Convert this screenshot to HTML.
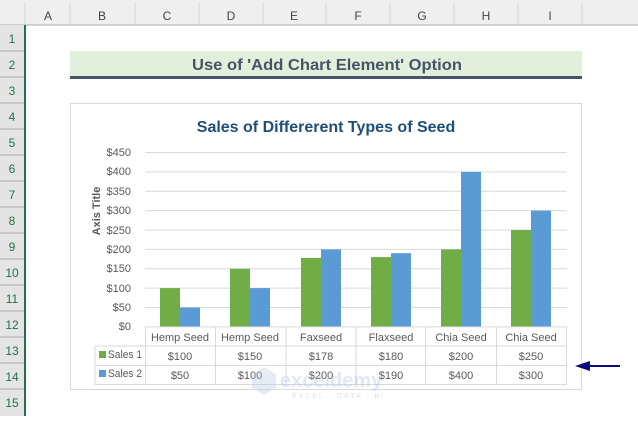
<!DOCTYPE html>
<html><head><meta charset="utf-8"><style>
html,body{margin:0;padding:0;background:#fff;}
body{width:638px;height:416px;overflow:hidden;font-family:"Liberation Sans",sans-serif;}
</style></head><body>
<svg width="638" height="416" xmlns="http://www.w3.org/2000/svg" font-family="Liberation Sans, sans-serif">
<rect x="0" y="0" width="638" height="416" fill="#fff"/>
<rect x="0" y="0" width="638" height="25" fill="#efefef"/>
<line x1="0" y1="25" x2="638" y2="25" stroke="#ababab"/>
<g stroke="#d4d4d4">
<line x1="25" y1="3" x2="25" y2="25"/><line x1="70" y1="3" x2="70" y2="25"/><line x1="135" y1="3" x2="135" y2="25"/>
<line x1="199" y1="3" x2="199" y2="25"/><line x1="263" y1="3" x2="263" y2="25"/><line x1="326" y1="3" x2="326" y2="25"/>
<line x1="390" y1="3" x2="390" y2="25"/><line x1="454" y1="3" x2="454" y2="25"/><line x1="518" y1="3" x2="518" y2="25"/>
<line x1="582" y1="3" x2="582" y2="25"/></g>
<g font-size="12" fill="#444" text-anchor="middle">
<text x="48" y="20">A</text><text x="102" y="20">B</text><text x="167" y="20">C</text><text x="231" y="20">D</text>
<text x="294" y="20">E</text><text x="358" y="20">F</text><text x="422" y="20">G</text><text x="486" y="20">H</text><text x="550" y="20">I</text></g>
<rect x="0" y="25" width="24" height="391" fill="#e4e4e4"/>
<rect x="24" y="25" width="2" height="391" fill="#217346"/>
<g stroke="#ababab">
<line x1="0" y1="51" x2="24" y2="51"/><line x1="0" y1="77" x2="24" y2="77"/><line x1="0" y1="103" x2="24" y2="103"/>
<line x1="0" y1="129" x2="24" y2="129"/><line x1="0" y1="155" x2="24" y2="155"/><line x1="0" y1="181" x2="24" y2="181"/>
<line x1="0" y1="207" x2="24" y2="207"/><line x1="0" y1="233" x2="24" y2="233"/><line x1="0" y1="259" x2="24" y2="259"/>
<line x1="0" y1="285" x2="24" y2="285"/><line x1="0" y1="311" x2="24" y2="311"/><line x1="0" y1="337" x2="24" y2="337"/>
<line x1="0" y1="363" x2="24" y2="363"/><line x1="0" y1="389" x2="24" y2="389"/></g>
<g font-size="12" fill="#217346" text-anchor="middle">
<text x="12" y="43">1</text><text x="12" y="69">2</text><text x="12" y="95">3</text><text x="12" y="121">4</text>
<text x="12" y="147">5</text><text x="12" y="173">6</text><text x="12" y="199">7</text><text x="12" y="225">8</text>
<text x="12" y="251">9</text><text x="12" y="277">10</text><text x="12" y="303">11</text><text x="12" y="329">12</text>
<text x="12" y="355">13</text><text x="12" y="381">14</text><text x="12" y="407">15</text></g>
<rect x="70" y="51" width="512" height="25" fill="#e2efda"/>
<rect x="70" y="76" width="512" height="3" fill="#44546a"/>
<text x="327" y="70" font-size="16" font-weight="bold" fill="#44546a" text-anchor="middle" textLength="270" lengthAdjust="spacingAndGlyphs">Use of 'Add Chart Element' Option</text>
<rect x="70.5" y="103.5" width="511" height="286" fill="#fff" stroke="#d9d9d9"/>
<text x="326" y="132" font-size="16" font-weight="bold" fill="#1f4e79" text-anchor="middle">Sales of Differerent Types of Seed</text>
<g stroke="#d9d9d9">
<line x1="145" y1="152.5" x2="567" y2="152.5"/><line x1="145" y1="171.9" x2="567" y2="171.9"/><line x1="145" y1="191.3" x2="567" y2="191.3"/>
<line x1="145" y1="210.6" x2="567" y2="210.6"/><line x1="145" y1="230" x2="567" y2="230"/><line x1="145" y1="249.4" x2="567" y2="249.4"/>
<line x1="145" y1="268.8" x2="567" y2="268.8"/><line x1="145" y1="288.1" x2="567" y2="288.1"/><line x1="145" y1="307.5" x2="567" y2="307.5"/>
</g>
<g font-size="11" fill="#595959" text-anchor="end">
<text x="131" y="156">$450</text><text x="131" y="175">$400</text><text x="131" y="195">$350</text><text x="131" y="214">$300</text>
<text x="131" y="234">$250</text><text x="131" y="253">$200</text><text x="131" y="272">$150</text><text x="131" y="292">$100</text>
<text x="131" y="311">$50</text><text x="131" y="330">$0</text></g>
<text transform="translate(100,211) rotate(-90)" font-size="11" font-weight="bold" fill="#595959" text-anchor="middle">Axis Title</text>
<g fill="#70ad47">
<rect x="160" y="288.1" width="20" height="38.8"/><rect x="230" y="268.8" width="20" height="58.1"/>
<rect x="301" y="257.9" width="20" height="69"/><rect x="371" y="257.1" width="20" height="69.8"/>
<rect x="441" y="249.4" width="20" height="77.5"/><rect x="511" y="230" width="20" height="96.9"/></g>
<g fill="#5b9bd5">
<rect x="180" y="307.5" width="20" height="19.4"/><rect x="250" y="288.1" width="20" height="38.8"/>
<rect x="321" y="249.4" width="20" height="77.5"/><rect x="391" y="253.2" width="20" height="73.7"/>
<rect x="461" y="171.9" width="20" height="155"/><rect x="531" y="210.6" width="20" height="116.3"/></g>
<g stroke="#d9d9d9" fill="none">
<line x1="145" y1="326.9" x2="567" y2="326.9"/>
<line x1="95" y1="346" x2="567" y2="346"/><line x1="95" y1="365.5" x2="567" y2="365.5"/><line x1="95" y1="384.5" x2="567" y2="384.5"/>
<line x1="95" y1="346" x2="95" y2="384.5"/>
<line x1="145.5" y1="326.9" x2="145.5" y2="384.5"/><line x1="215.5" y1="326.9" x2="215.5" y2="384.5"/>
<line x1="286" y1="326.9" x2="286" y2="384.5"/><line x1="356" y1="326.9" x2="356" y2="384.5"/>
<line x1="425.5" y1="326.9" x2="425.5" y2="384.5"/><line x1="496.5" y1="326.9" x2="496.5" y2="384.5"/>
<line x1="566.5" y1="326.9" x2="566.5" y2="384.5"/></g>
<g font-size="11" fill="#595959" text-anchor="middle">
<text x="180" y="341">Hemp Seed</text><text x="250" y="341">Hemp Seed</text><text x="321" y="341">Faxseed</text>
<text x="391" y="341">Flaxseed</text><text x="461" y="341">Chia Seed</text><text x="531" y="341">Chia Seed</text>
<text x="180" y="360">$100</text><text x="250" y="360">$150</text><text x="321" y="360">$178</text>
<text x="391" y="360">$180</text><text x="461" y="360">$200</text><text x="531" y="360">$250</text>
<text x="180" y="379">$50</text><text x="250" y="379">$100</text><text x="321" y="379">$200</text>
<text x="391" y="379">$190</text><text x="461" y="379">$400</text><text x="531" y="379">$300</text></g>
<rect x="99" y="351" width="7" height="7" fill="#70ad47"/>
<rect x="99" y="370" width="7" height="7" fill="#5b9bd5"/>
<g font-size="11" fill="#595959"><text x="108" y="358" textLength="34" lengthAdjust="spacingAndGlyphs">Sales 1</text><text x="108" y="377" textLength="34" lengthAdjust="spacingAndGlyphs">Sales 2</text></g>
<g opacity="0.35">
<path d="M252 374 l12 -7 l12 7 l0 14 l-12 7 l-12 -7z" fill="#b8c8e8"/>
<text x="280" y="387" font-size="20" font-weight="bold" fill="#a9bde8">exceldemy</text>
<text x="292" y="398" font-size="7" fill="#a0a8b8" letter-spacing="2">EXCEL · DATA · BI</text></g>
<line x1="585" y1="366" x2="620" y2="366" stroke="#0a0a7a" stroke-width="2"/>
<path d="M575 366 L590 361 L590 371Z" fill="#0a0a7a"/>
</svg>
</body></html>
